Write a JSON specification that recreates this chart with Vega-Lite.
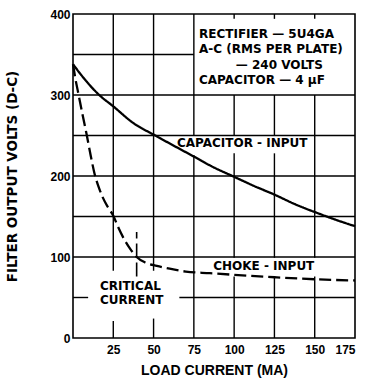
{
  "$schema": "https://vega.github.io/schema/vega-lite/v6.json",
  "width": 282,
  "height": 324,
  "autosize": {"type": "none"},
  "padding": {"left": 73, "top": 14, "right": 17, "bottom": 49},
  "background": "white",
  "config": {
    "view": {"stroke": "black", "strokeWidth": 1.6},
    "font": "Liberation Sans",
    "axis": {
      "labelFont": "Liberation Sans",
      "labelFontWeight": "bold",
      "labelFontSize": 12,
      "labelColor": "black",
      "titleFont": "Liberation Sans",
      "titleFontWeight": "bold",
      "titleFontSize": 14,
      "titleColor": "black"
    }
  },
  "datasets": {
    "grid": [
      {"x": 25, "x2": 25, "y": 0, "y2": 21},
      {"x": 25, "x2": 25, "y": 83, "y2": 400},
      {"x": 50, "x2": 50, "y": 0, "y2": 24},
      {"x": 50, "x2": 50, "y": 83, "y2": 400},
      {"x": 75, "x2": 75, "y": 0, "y2": 226},
      {"x": 75, "x2": 75, "y": 250, "y2": 400},
      {"x": 100, "x2": 100, "y": 0, "y2": 76},
      {"x": 100, "x2": 100, "y": 99, "y2": 228},
      {"x": 100, "x2": 100, "y": 250, "y2": 300},
      {"x": 100, "x2": 100, "y": 394, "y2": 400},
      {"x": 125, "x2": 125, "y": 0, "y2": 76},
      {"x": 125, "x2": 125, "y": 99, "y2": 228},
      {"x": 125, "x2": 125, "y": 250, "y2": 300},
      {"x": 125, "x2": 125, "y": 394, "y2": 400},
      {"x": 150, "x2": 150, "y": 0, "y2": 76},
      {"x": 150, "x2": 150, "y": 99, "y2": 300},
      {"x": 150, "x2": 150, "y": 394, "y2": 400},
      {"x": 0, "x2": 9.4, "y": 50, "y2": 50},
      {"x": 66, "x2": 175, "y": 50, "y2": 50},
      {"x": 0, "x2": 175, "y": 100, "y2": 100},
      {"x": 0, "x2": 175, "y": 150, "y2": 150},
      {"x": 0, "x2": 175, "y": 200, "y2": 200},
      {"x": 0, "x2": 175, "y": 250, "y2": 250},
      {"x": 0, "x2": 175, "y": 300, "y2": 300},
      {"x": 0, "x2": 75, "y": 350, "y2": 350}
    ],
    "critical": [
      {"x": 39.5, "y": 76, "y2": 131}
    ],
    "curves": [
      {"series": "Capacitor-input", "x": 0, "y": 338},
      {"series": "Capacitor-input", "x": 5, "y": 325},
      {"series": "Capacitor-input", "x": 10, "y": 313},
      {"series": "Capacitor-input", "x": 16.3, "y": 300},
      {"series": "Capacitor-input", "x": 25, "y": 286},
      {"series": "Capacitor-input", "x": 37, "y": 266},
      {"series": "Capacitor-input", "x": 51, "y": 250},
      {"series": "Capacitor-input", "x": 62, "y": 238},
      {"series": "Capacitor-input", "x": 75, "y": 224},
      {"series": "Capacitor-input", "x": 87, "y": 211},
      {"series": "Capacitor-input", "x": 100, "y": 199},
      {"series": "Capacitor-input", "x": 112, "y": 188},
      {"series": "Capacitor-input", "x": 125, "y": 177},
      {"series": "Capacitor-input", "x": 138, "y": 165},
      {"series": "Capacitor-input", "x": 152, "y": 154},
      {"series": "Capacitor-input", "x": 163, "y": 146},
      {"series": "Capacitor-input", "x": 175, "y": 138},
      {"series": "Choke-input", "x": 0, "y": 338},
      {"series": "Choke-input", "x": 1.5, "y": 320},
      {"series": "Choke-input", "x": 3.3, "y": 302},
      {"series": "Choke-input", "x": 6, "y": 275},
      {"series": "Choke-input", "x": 8.5, "y": 251},
      {"series": "Choke-input", "x": 11, "y": 225},
      {"series": "Choke-input", "x": 13.6, "y": 201},
      {"series": "Choke-input", "x": 16, "y": 186},
      {"series": "Choke-input", "x": 18.6, "y": 173},
      {"series": "Choke-input", "x": 21.5, "y": 162},
      {"series": "Choke-input", "x": 25, "y": 151},
      {"series": "Choke-input", "x": 28, "y": 137},
      {"series": "Choke-input", "x": 32, "y": 121},
      {"series": "Choke-input", "x": 35.5, "y": 110},
      {"series": "Choke-input", "x": 39.5, "y": 100},
      {"series": "Choke-input", "x": 45, "y": 93},
      {"series": "Choke-input", "x": 52, "y": 89},
      {"series": "Choke-input", "x": 60, "y": 85.5},
      {"series": "Choke-input", "x": 70, "y": 82},
      {"series": "Choke-input", "x": 85, "y": 80},
      {"series": "Choke-input", "x": 100, "y": 78},
      {"series": "Choke-input", "x": 125, "y": 75},
      {"series": "Choke-input", "x": 150, "y": 72.5},
      {"series": "Choke-input", "x": 175, "y": 71}
    ],
    "labels": [
      {"label": "RECTIFIER — 5U4GA", "x": 78.2, "y": 375},
      {"label": "A-C (RMS PER PLATE)", "x": 78.2, "y": 356.5},
      {"label": "— 240 VOLTS", "x": 101, "y": 337},
      {"label": "CAPACITOR — 4 μF", "x": 78.2, "y": 318.5},
      {"label": "CAPACITOR - INPUT", "x": 64.5, "y": 240.5},
      {"label": "CHOKE - INPUT", "x": 87, "y": 89},
      {"label": "CRITICAL", "x": 16.7, "y": 63.6},
      {"label": "CURRENT", "x": 16.7, "y": 46.4}
    ]
  },
  "encoding": {
    "x": {
      "field": "x",
      "type": "quantitative",
      "scale": {"domain": [0, 175], "nice": false, "zero": false},
      "axis": {
        "values": [25, 50, 75, 100, 125, 150, 175],
        "grid": false,
        "ticks": false,
        "tickSize": 0,
        "domain": false,
        "labelPadding": 6,
        "title": "LOAD CURRENT (MA)",
        "titlePadding": 8
      }
    },
    "y": {
      "field": "y",
      "type": "quantitative",
      "scale": {"domain": [0, 400], "nice": false},
      "axis": {
        "values": [0, 100, 200, 300, 400],
        "grid": false,
        "ticks": false,
        "tickSize": 0,
        "domain": false,
        "labelPadding": 3,
        "title": "FILTER OUTPUT VOLTS (D-C)",
        "titleFont": "DejaVu Sans",
        "titleFontSize": 13.5,
        "titlePadding": 30
      }
    }
  },
  "layer": [
    {
      "data": {"name": "grid"},
      "mark": {"type": "rule", "color": "black", "strokeWidth": 1.4},
      "encoding": {"x2": {"field": "x2"}, "y2": {"field": "y2"}}
    },
    {
      "data": {"name": "critical"},
      "mark": {"type": "rule", "color": "black", "strokeWidth": 1.6, "strokeDash": [14, 5]},
      "encoding": {"y2": {"field": "y2"}}
    },
    {
      "data": {"name": "curves"},
      "mark": {"type": "line", "color": "black", "strokeWidth": 2.3, "interpolate": "monotone"},
      "encoding": {
        "detail": {"field": "series", "type": "nominal"},
        "strokeDash": {
          "field": "series",
          "type": "nominal",
          "scale": {"domain": ["Capacitor-input", "Choke-input"], "range": [[1, 0], [12, 5]]},
          "legend": null
        }
      }
    },
    {
      "data": {"name": "labels"},
      "mark": {"type": "text", "align": "left", "baseline": "middle", "font": "DejaVu Sans", "fontWeight": "bold", "fontSize": 12, "color": "black"},
      "encoding": {"text": {"field": "label", "type": "nominal"}}
    }
  ]
}
